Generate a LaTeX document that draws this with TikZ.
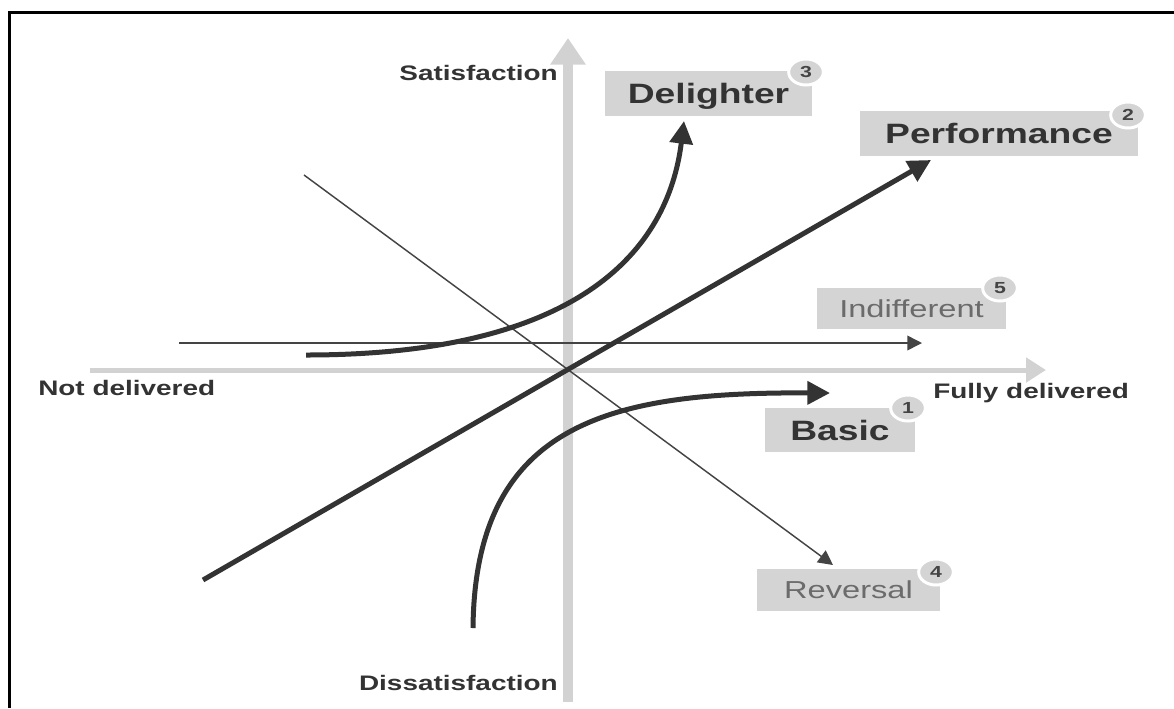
\documentclass[tikz,border=0pt]{standalone}
\usepackage{fontspec}
\newfontfamily\lab[FakeStretch=1.33]{Liberation Sans}
\usetikzlibrary{arrows.meta,shapes.geometric}
\definecolor{axisgray}{HTML}{D2D2D2}
\definecolor{boxgray}{HTML}{D4D4D4}
\definecolor{ink}{HTML}{333333}
\definecolor{softink}{HTML}{6B6B6B}
\definecolor{thinink}{HTML}{444444}

\begin{document}
\begin{tikzpicture}[x=0.75pt,y=-0.75pt,
  axislabel/.style={font=\lab\bfseries\fontsize{15.75}{18}\selectfont, text=ink,
    inner sep=0pt, text height=11.3pt, text depth=0pt},
  kindbox/.style={fill=boxgray, inner sep=0pt, text height=15pt, text depth=0pt,
    font=\lab\bfseries\fontsize{21}{24}\selectfont, text=ink},
  softbox/.style={kindbox, font=\lab\fontsize{18.4}{22}\selectfont, text=softink,
    text height=13.2pt},
  badge/.style={ellipse, fill=boxgray, draw=white, line width=2.25pt, inner sep=0pt,
    minimum width=26pt, minimum height=19.5pt, text height=8.6pt, text depth=0pt,
    font=\lab\bfseries\fontsize{12}{14}\selectfont, text=thinink},
  vaxis/.style={draw=axisgray, line width=7.5pt, -{Triangle[length=20pt,width=25.5pt]}},
  haxis/.style={draw=axisgray, line width=3.75pt, -{Triangle[length=15pt,width=18pt]}},
  thickarrow/.style={draw=ink, line width=3.75pt, -{Triangle[length=17pt,width=17pt]}},
  thinarrow/.style={draw=thinink, line width=1.1pt, -{Triangle[length=11pt,width=11pt]}},
  frameline/.style={draw=black, line width=2.25pt, line join=miter}
]
\useasboundingbox (0,0) rectangle (1174,708);

% frame (top and left edges)
\coordinate (fb) at (9,708);
\coordinate (fc) at (9,12.5);
\coordinate (fr) at (1174,12.5);
\draw[frameline] (fb) -- (fc) -- (fr);

% axes
\coordinate (vbot) at (568,702);
\coordinate (vtop) at (568,38);
\coordinate (hleft) at (90,370);
\coordinate (hright) at (1046,370);
\draw[vaxis] (vbot) -- (vtop);
\draw[haxis] (hleft) -- (hright);

% axis labels
\node[axislabel, anchor=east] (sat) at (558,73) {Satisfaction};
\node[axislabel, anchor=east] (dis) at (558,683) {Dissatisfaction};
\node[axislabel, anchor=west] (notdel) at (38,388) {Not delivered};
\node[axislabel, anchor=west] (fulldel) at (933,391) {Fully delivered};

% curve end points
\coordinate (i0) at (179,343);
\coordinate (i1) at (922,343);
\coordinate (r0) at (304,175);
\coordinate (r1) at (833,565);
\coordinate (p0) at (203,580);
\coordinate (p1) at (931,160);
\coordinate (d0) at (306,355);
\coordinate (d1) at (684,121);
\coordinate (b0) at (473,628);
\coordinate (b1) at (830,393);

% indifferent and reversal
\draw[thinarrow] (i0) -- (i1);
\draw[thinarrow] (r0) -- (r1);

% performance, delighter, basic
\draw[thickarrow] (p0) -- (p1);
\draw[thickarrow] (d0) .. controls (580,355) and (668,250) .. (d1);
\draw[thickarrow] (b0) .. controls (475,420) and (615,392) .. (b1);

% category boxes
\node[kindbox, minimum width=155.25pt, minimum height=33.75pt] (delighter) at (708.5,93.5) {Delighter};
\node[badge] (n3) at (806,72) {3};
\node[kindbox, minimum width=208.5pt, minimum height=33.75pt] (performance) at (999,133.5) {Performance};
\node[badge] (n2) at (1128,115) {2};
\node[softbox, minimum width=141.75pt, minimum height=30.75pt] (indifferent) at (911.5,308.5) {Indifferent};
\node[badge] (n5) at (1000,288) {5};
\node[kindbox, minimum width=112.5pt, minimum height=33pt] (basic) at (840,430) {Basic};
\node[badge] (n1) at (908,408) {1};
\node[softbox, minimum width=137.25pt, minimum height=31.5pt] (reversal) at (848.5,590) {Reversal};
\node[badge] (n4) at (936,572) {4};
\end{tikzpicture}
\end{document}
